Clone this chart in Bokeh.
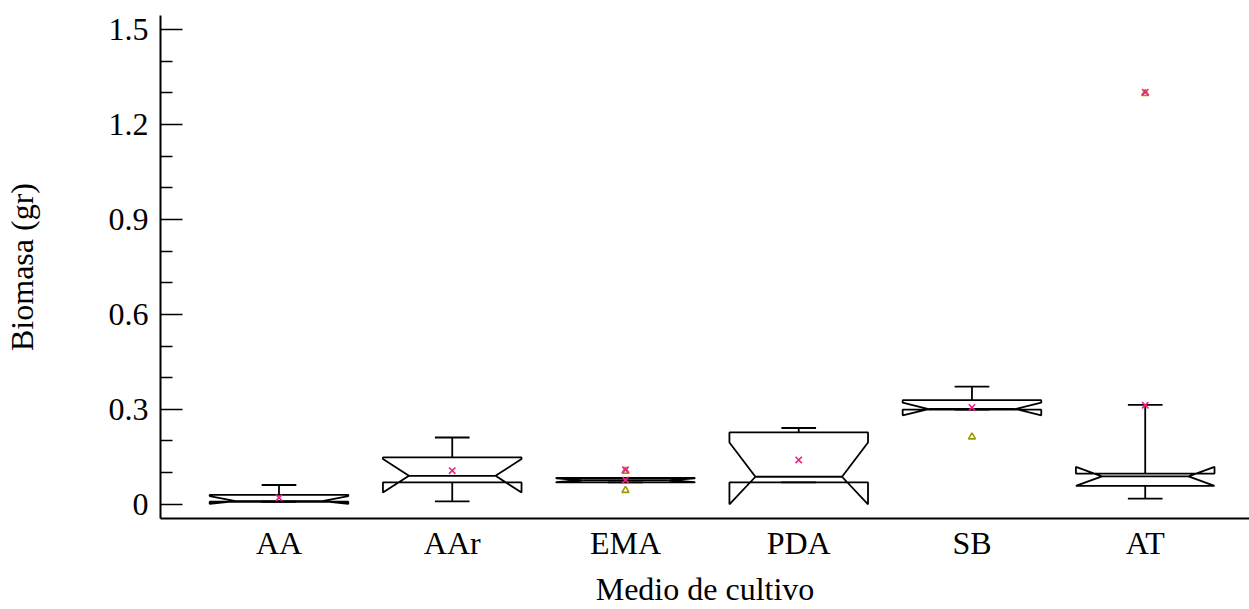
from bokeh.plotting import figure
from bokeh.models import LinearAxis, FixedTicker, NumeralTickFormatter
from bokeh.embed import file_html
from bokeh.resources import INLINE

# ---- data ----
categories = ["AA", "AAr", "EMA", "PDA", "SB", "AT"]
q1 = [0.008, 0.069, 0.069, 0.069, 0.299, 0.058]
median = [0.010, 0.090, 0.076, 0.087, 0.301, 0.088]
q3 = [0.030, 0.148, 0.083, 0.227, 0.329, 0.097]
notch_lo = [0.001, 0.037, 0.070, 0.000, 0.281, 0.058]
notch_hi = [0.026, 0.143, 0.082, 0.195, 0.321, 0.1185]
whisker_lo = [0.008, 0.009, 0.069, 0.069, 0.299, 0.018]
whisker_hi = [0.061, 0.211, 0.083, 0.241, 0.372, 0.314]
means = [0.021, 0.106, 0.077, 0.140, 0.306, 0.313]
outlier_cat = ["EMA", "EMA", "SB", "AT"]
outlier_val = [0.109, 0.048, 0.217, 1.302]
far_outlier_cat = ["EMA", "AT"]
far_outlier_val = [0.109, 1.302]
y_ticks = [0, 0.3, 0.6, 0.9, 1.2, 1.5]
y_minor = [0.1, 0.2, 0.4, 0.5, 0.7, 0.8, 1.0, 1.1, 1.3, 1.4]

# ---- style ----
FONT = "Liberation Serif"
BOX_HW = 0.4
NOTCH_IN = 0.15
CAP_HW = 0.1
LW = 1.8
PINK = "#f0207f"
OLIVE = "#9a9a00"

pos = {c: i + 1 for i, c in enumerate(categories)}
xc = [pos[c] for c in categories]

p = figure(width=1249, height=609, x_range=(0.316, 6.602), y_range=(-0.0449, 1.5443),
           output_backend="svg", toolbar_location=None,
           x_axis_type=None, y_axis_type=None,
           min_border_left=160, min_border_top=15, min_border_right=0, min_border_bottom=0,
           outline_line_color=None, background_fill_color="white", border_fill_color="white")
p.xgrid.visible = False
p.ygrid.visible = False

# notched boxes
xs, ys = [], []
for i, x in enumerate(xc):
    L, R = x - BOX_HW, x + BOX_HW
    nL, nR = L + NOTCH_IN, R - NOTCH_IN
    xs.append([L, L, nL, L, L, R, R, nR, R, R])
    ys.append([q1[i], notch_lo[i], median[i], notch_hi[i], q3[i],
               q3[i], notch_hi[i], median[i], notch_lo[i], q1[i]])
p.patches(xs, ys, fill_color=None, line_color="black", line_width=LW)

# medians
p.segment(x0=[x - BOX_HW + NOTCH_IN for x in xc], y0=median,
          x1=[x + BOX_HW - NOTCH_IN for x in xc], y1=median,
          line_color="black", line_width=LW)
# whiskers
p.segment(x0=xc, y0=q3, x1=xc, y1=whisker_hi, line_color="black", line_width=LW)
p.segment(x0=xc, y0=q1, x1=xc, y1=whisker_lo, line_color="black", line_width=LW)
p.segment(x0=[x - CAP_HW for x in xc], y0=whisker_hi, x1=[x + CAP_HW for x in xc], y1=whisker_hi,
          line_color="black", line_width=LW)
p.segment(x0=[x - CAP_HW for x in xc], y0=whisker_lo, x1=[x + CAP_HW for x in xc], y1=whisker_lo,
          line_color="black", line_width=LW)

# outliers
p.scatter(x=[pos[c] for c in outlier_cat], y=[v - 0.004 for v in outlier_val], marker="triangle",
          size=7, fill_color=None, line_color=OLIVE, line_width=1.6)
p.scatter(x=[pos[c] for c in far_outlier_cat], y=far_outlier_val, marker="x",
          size=9, line_color=PINK, line_width=1.6)
# means
p.scatter(x=xc, y=means, marker="x", size=9, line_color=PINK, line_width=1.6)

# axes
yaxis = LinearAxis(ticker=FixedTicker(ticks=y_ticks, minor_ticks=y_minor),
                   formatter=NumeralTickFormatter(format="0.[0]"),
                   axis_label="Biomasa (gr)")
yaxis.major_tick_in = 22
yaxis.major_tick_out = 0
yaxis.minor_tick_in = 12
yaxis.minor_tick_out = 0
yaxis.major_tick_line_width = 1.6
yaxis.minor_tick_line_width = 1.6
yaxis.axis_line_width = 2
yaxis.major_label_standoff = 12
yaxis.axis_label_standoff = 66
yaxis.major_label_text_font = FONT
yaxis.major_label_text_font_size = "32px"
yaxis.axis_label_text_font = FONT
yaxis.axis_label_text_font_size = "32px"
yaxis.axis_label_text_font_style = "normal"
yaxis.major_label_text_color = "black"
yaxis.axis_label_text_color = "black"
p.add_layout(yaxis, "left")

xaxis = LinearAxis(ticker=FixedTicker(ticks=xc, minor_ticks=[]),
                   major_label_overrides={pos[c]: c for c in categories},
                   axis_label="Medio de cultivo")
xaxis.major_tick_in = 0
xaxis.major_tick_out = 0
xaxis.minor_tick_in = 0
xaxis.minor_tick_out = 0
xaxis.axis_line_width = 2
xaxis.major_label_standoff = 6
xaxis.axis_label_standoff = 7
xaxis.major_label_text_font = FONT
xaxis.major_label_text_font_size = "32px"
xaxis.axis_label_text_font = FONT
xaxis.axis_label_text_font_size = "32px"
xaxis.axis_label_text_font_style = "normal"
xaxis.major_label_text_color = "black"
xaxis.axis_label_text_color = "black"
p.add_layout(xaxis, "below")

open("out.html", "w").write(file_html(p, INLINE))
